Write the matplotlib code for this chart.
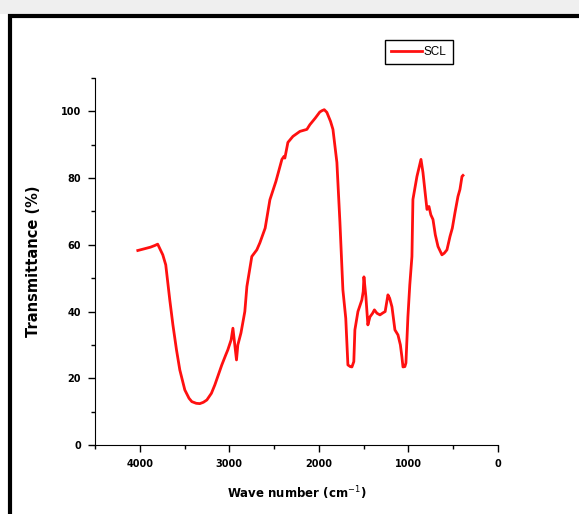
import matplotlib.pyplot as plt
from matplotlib.patches import Rectangle
from matplotlib.ticker import MultipleLocator

# FTIR spectrum of SCL
wavenumber = [4022, 3950, 3880, 3832, 3800, 3743, 3710, 3665, 3630, 3590, 3553, 3497,
              3450, 3419, 3370, 3330, 3290, 3251, 3200, 3162, 3110, 3084, 3040, 3017,
              2980, 2960, 2939, 2920, 2905, 2870, 2827, 2804, 2749, 2693, 2659, 2600,
              2547, 2480, 2413, 2390, 2380, 2346, 2290, 2212, 2134, 2101, 2040, 1990,
              1966, 1940, 1911, 1870, 1843, 1799, 1765, 1732, 1700, 1676, 1650, 1631,
              1610, 1598, 1564, 1520, 1505, 1497, 1475, 1453, 1430, 1400, 1380, 1352,
              1318, 1285, 1260, 1229, 1210, 1184, 1151, 1117, 1090, 1073, 1061, 1040,
              1028, 1006, 985, 961, 950, 905, 860, 838, 815, 793, 771, 750, 726,
              700, 670, 626, 600, 570, 536, 510, 480, 447, 425, 402, 391]
transmittance = [58.3, 58.8, 59.3, 59.8, 60.2, 57.0, 54.0, 43.5, 36.0, 28.5, 22.5, 16.5,
                 14.0, 13.0, 12.5, 12.4, 12.8, 13.5, 15.5, 18.0, 22.0, 24.0, 27.0, 28.5,
                 31.5, 35.0, 30.0, 25.5, 30.0, 33.6, 40.0, 47.5, 56.5, 58.5, 60.6, 65.0,
                 73.5, 79.0, 85.6, 86.5, 86.0, 90.7, 92.5, 94.0, 94.6, 96.0, 98.0, 99.8,
                 100.2, 100.5, 99.7, 97.0, 94.6, 84.7, 66.7, 46.5, 38.0, 24.0, 23.5, 23.4,
                 25.0, 34.5, 40.0, 43.5, 46.0, 50.4, 44.4, 36.0, 38.4, 39.5, 40.5, 39.5,
                 39.0, 39.6, 40.0, 45.0, 44.0, 41.4, 34.5, 33.0, 30.0, 26.4, 23.4, 23.5,
                 24.6, 38.4, 48.0, 56.5, 73.6, 80.5, 85.6, 81.7, 76.0, 70.6, 71.5, 69.0, 67.6,
                 63.0, 59.5, 57.0, 57.5, 58.5, 62.5, 65.0, 69.7, 74.5, 76.6, 80.5, 80.8]

fig = plt.figure(figsize=(5.79, 5.14), dpi=100)

# light grey strip at the top and thick black frame
fig.patches.append(Rectangle((0, 1 - 14 / 514), 1, 14 / 514, transform=fig.transFigure,
                             facecolor='#efefef', edgecolor='none', zorder=0))
fig.patches.append(Rectangle((9.5 / 579, -0.05), 1.1, 1 - 15.5 / 514 + 0.05,
                             transform=fig.transFigure, facecolor='none',
                             edgecolor='black', linewidth=3, zorder=1))

ax = fig.add_axes([95 / 579, 1 - 445 / 514, (498 - 95) / 579, (445 - 78) / 514])
ax.plot(wavenumber, transmittance, color='#ff1010', linewidth=2, label='SCL')

ax.set_xlim(4500, 0)
ax.set_ylim(0, 110)
ax.xaxis.set_major_locator(MultipleLocator(1000))
ax.xaxis.set_minor_locator(MultipleLocator(500))
ax.yaxis.set_major_locator(MultipleLocator(20))
ax.yaxis.set_minor_locator(MultipleLocator(10))
ax.tick_params(which='both', direction='out', width=1, labelsize=7, pad=5)
ax.tick_params(which='major', length=5)
ax.tick_params(which='minor', length=3)
for lab in ax.get_xticklabels() + ax.get_yticklabels():
    lab.set_fontweight('bold')
for side in ['top', 'right']:
    ax.spines[side].set_visible(False)

ax.set_xlabel('Wave number (cm$^{-1}$)', fontsize=8.5, fontweight='bold')
ax.set_ylabel('Transmittance (%)', fontsize=10.5, fontweight='bold')
ax.xaxis.set_label_coords(0.5, -0.108)
ax.yaxis.set_label_coords(-0.134, 0.5)

leg = fig.legend(loc='upper left', bbox_to_anchor=(385 / 579, 1 - 40 / 514),
                 borderaxespad=0, frameon=True, fancybox=False, framealpha=1,
                 edgecolor='black', handlelength=2.6, handletextpad=0.2,
                 borderpad=0.5, prop={'family': 'Liberation Sans', 'size': 8.5})
leg.get_frame().set_linewidth(1)

fig.savefig('out.png', dpi=100)
